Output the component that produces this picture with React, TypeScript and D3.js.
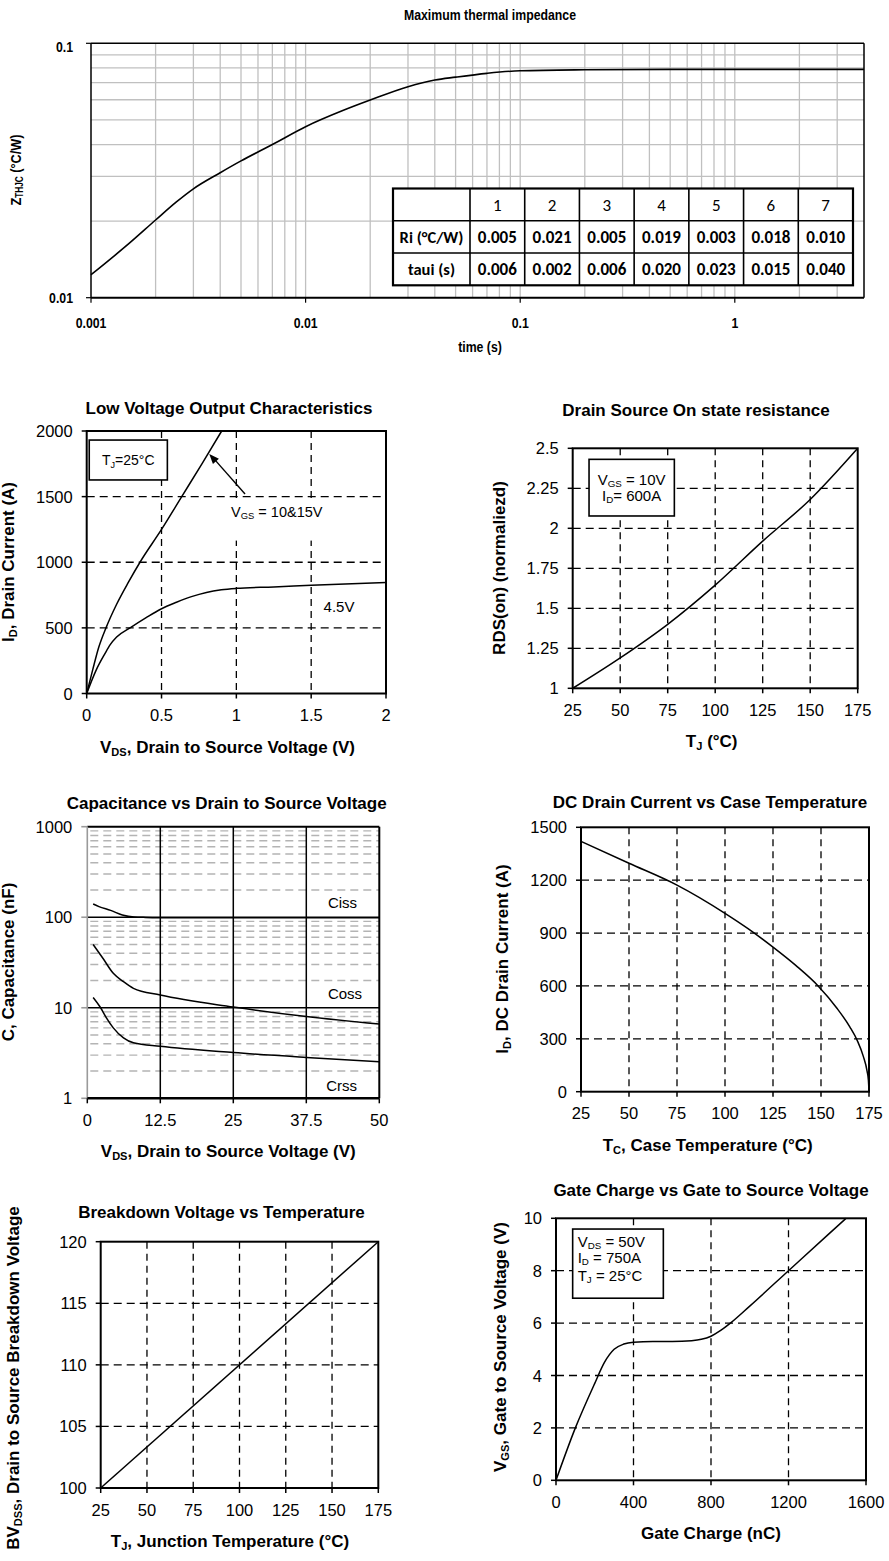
import React from 'react';
import * as d3 from 'd3';

const SANS = "'Liberation Sans', Arial, Helvetica, sans-serif";
const TABLEFONT = "Carlito, Calibri, Lato, 'Open Sans', sans-serif";

// ---------------- Data: thermal impedance ----------------
const thermalTime = [0.001, 0.0015, 0.002, 0.0025, 0.003, 0.004, 0.005, 0.007, 0.01, 0.015, 0.02, 0.03, 0.04, 0.05, 0.07, 0.1, 0.2, 0.5, 1, 2, 4];
const thermalZth = [0.0123, 0.0163, 0.0202, 0.0238, 0.0268, 0.031, 0.0345, 0.04, 0.047, 0.0545, 0.0598, 0.0675, 0.0717, 0.0736, 0.0762, 0.078, 0.0787, 0.079, 0.079, 0.079, 0.079];
const thermalXTicks = [0.001, 0.01, 0.1, 1];
const thermalXTickLabels = ['0.001', '0.01', '0.1', '1'];
const thermalYTicks = [0.01, 0.1];
const thermalYTickLabels = ['0.01', '0.1'];

const tableColumns = ['1', '2', '3', '4', '5', '6', '7'];
const tableRowLabels = ['Ri (°C/W)', 'taui (s)'];
const tableRi = ['0.005', '0.021', '0.005', '0.019', '0.003', '0.018', '0.010'];
const tableTau = ['0.006', '0.002', '0.006', '0.020', '0.023', '0.015', '0.040'];

// ---------------- Data: low voltage output ----------------
const lvV10 = [0, 0.04, 0.08, 0.129, 0.2, 0.28, 0.356, 0.5, 0.635, 0.77, 0.902];
const lvI10 = [0, 180, 350, 500, 680, 850, 1000, 1250, 1500, 1750, 2000];
const lvV45 = [0, 0.064, 0.12, 0.156, 0.2, 0.29, 0.4, 0.497, 0.6, 0.7, 0.8, 0.9, 1.0, 1.25, 1.5, 2.0];
const lvI45 = [0, 180, 300, 370, 430, 500, 580, 644, 695, 738, 770, 790, 801, 812, 825, 845];
const lvXTicks = [0, 0.5, 1, 1.5, 2];
const lvYTicks = [0, 500, 1000, 1500, 2000];

// ---------------- Data: RDS(on) ----------------
const rdsTemp = [25, 50, 75, 100, 125, 150, 175];
const rdsValue = [1.0, 1.19, 1.4, 1.645, 1.92, 2.18, 2.5];
const rdsXTicks = [25, 50, 75, 100, 125, 150, 175];
const rdsYTicks = [1, 1.25, 1.5, 1.75, 2, 2.25, 2.5];

// ---------------- Data: capacitance ----------------
const cissV = [1, 2, 4, 6, 8, 10, 12.5, 25, 37.5, 50];
const cissC = [140, 131, 119, 106, 100.5, 99.5, 99, 98.5, 98.5, 98.5];
const cossV = [1, 2.7, 4.45, 6.2, 7.9, 12.5, 25, 37.5, 50];
const cossC = [50, 35, 24, 19.4, 16.4, 13.8, 10.2, 8.0, 6.6];
const crssV = [1, 2.2, 3.3, 4.45, 6.2, 7.9, 12.5, 25, 37.5, 50];
const crssC = [13, 10.2, 7.7, 6.0, 4.65, 4.1, 3.75, 3.2, 2.83, 2.54];
const capXTicks = [0, 12.5, 25, 37.5, 50];
const capYTicks = [1, 10, 100, 1000];

// ---------------- Data: DC drain current ----------------
const dcTemp = [25, 50, 75, 100, 112, 125, 137, 148.5, 158.2, 165, 168.9, 172, 174, 174.7, 175];
const dcCurrent = [1420, 1296, 1172, 1012, 925, 820, 715, 600, 475, 368, 290, 202, 117, 64, 0];
const dcXTicks = [25, 50, 75, 100, 125, 150, 175];
const dcYTicks = [0, 300, 600, 900, 1200, 1500];

// ---------------- Data: breakdown voltage ----------------
const bvTemp = [25, 175];
const bvVoltage = [100, 120];
const bvXTicks = [25, 50, 75, 100, 125, 150, 175];
const bvYTicks = [100, 105, 110, 115, 120];

// ---------------- Data: gate charge ----------------
const gateQ = [0, 100, 200, 250, 300, 350, 400, 500, 600, 700, 750, 800, 850, 900, 1000, 1200, 1400, 1497];
const gateV = [0, 2, 3.7, 4.5, 5.0, 5.2, 5.27, 5.3, 5.3, 5.33, 5.38, 5.5, 5.72, 6.0, 6.65, 8.0, 9.35, 10];
const gateXTicks = [0, 400, 800, 1200, 1600];
const gateYTicks = [0, 2, 4, 6, 8, 10];

const TICK_FS = 16.5;
const LABEL_FS = 17;
const NARROW_SCALE = 0.82;

function Sub({ main, sub, rest, fs, dy = 3 }: { main: string; sub: string; rest: string; fs: number; dy?: number }) {
  return (
    <>
      <tspan>{main}</tspan>
      <tspan fontSize={fs * 0.65} dy={dy}>{sub}</tspan>
      <tspan dy={-dy}>{rest}</tspan>
    </>
  );
}

function NarrowText({
  x,
  y,
  fs,
  anchor = 'middle',
  rotate = 0,
  children,
}: {
  x: number;
  y: number;
  fs: number;
  anchor?: 'start' | 'middle' | 'end';
  rotate?: number;
  children: React.ReactNode;
}) {
  return (
    <text
      transform={`translate(${x},${y}) rotate(${rotate}) scale(${NARROW_SCALE},1)`}
      textAnchor={anchor}
      fontSize={fs}
      fontWeight="bold"
      fontFamily={SANS}
    >
      {children}
    </text>
  );
}

type Box = { l: number; r: number; t: number; b: number };

type ChartProps = {
  box: Box;
  xDomain: [number, number];
  yDomain: [number, number];
  xTicks: number[];
  yTicks: number[];
  title: string;
  titleCx: number;
  titleBase: number;
  xLabel: React.ReactNode;
  xLabelCx: number;
  yLabel: React.ReactNode;
  yLabelX: number;
  yLabelCy: number;
  series: { xs: number[]; ys: number[] }[];
  extra?: (x: d3.ScaleLinear<number, number>, y: d3.ScaleLinear<number, number>) => React.ReactNode;
};

function Chart(p: ChartProps) {
  const { box } = p;
  const x = d3.scaleLinear().domain(p.xDomain).range([box.l, box.r]);
  const y = d3.scaleLinear().domain(p.yDomain).range([box.b, box.t]);
  const line = d3
    .line<[number, number]>()
    .x((d) => x(d[0]))
    .y((d) => y(d[1]))
    .curve(d3.curveMonotoneX);
  const innerX = p.xTicks.filter((v) => v !== p.xDomain[0] && v !== p.xDomain[1]);
  const innerY = p.yTicks.filter((v) => v !== p.yDomain[0] && v !== p.yDomain[1]);
  return (
    <g>
      {innerY.map((v) => (
        <line key={'gy' + v} x1={box.l} x2={box.r} y1={y(v)} y2={y(v)} stroke="#000" strokeWidth={1.3} strokeDasharray="8,5" />
      ))}
      {innerX.map((v) => (
        <line key={'gx' + v} x1={x(v)} x2={x(v)} y1={box.t} y2={box.b} stroke="#000" strokeWidth={1.3} strokeDasharray="7,5" />
      ))}
      {p.extra && p.extra(x, y)}
      {p.series.map((s, i) => (
        <path
          key={'s' + i}
          d={line(s.xs.map((v, j) => [v, s.ys[j]] as [number, number])) || ''}
          fill="none"
          stroke="#000"
          strokeWidth={1.5}
        />
      ))}
      <rect x={box.l} y={box.t} width={box.r - box.l} height={box.b - box.t} fill="none" stroke="#000" strokeWidth={2} />
      {p.yTicks.map((v) => (
        <g key={'ty' + v}>
          <line x1={box.l - 5} x2={box.l} y1={y(v)} y2={y(v)} stroke="#000" strokeWidth={1.5} />
          <text x={box.l - 14} y={y(v) + 6} textAnchor="end" fontSize={TICK_FS} fontFamily={SANS}>
            {String(v)}
          </text>
        </g>
      ))}
      {p.xTicks.map((v) => (
        <g key={'tx' + v}>
          <line x1={x(v)} x2={x(v)} y1={box.b} y2={box.b + 5} stroke="#000" strokeWidth={1.5} />
          <text x={x(v)} y={box.b + 27.5} textAnchor="middle" fontSize={TICK_FS} fontFamily={SANS}>
            {String(v)}
          </text>
        </g>
      ))}
      <text x={p.titleCx} y={p.titleBase} textAnchor="middle" fontSize={LABEL_FS} fontWeight="bold" fontFamily={SANS}>
        {p.title}
      </text>
      <text x={p.xLabelCx} y={box.b + 59} textAnchor="middle" fontSize={LABEL_FS} fontWeight="bold" fontFamily={SANS}>
        {p.xLabel}
      </text>
      <text
        transform={`translate(${p.yLabelX},${p.yLabelCy}) rotate(-90)`}
        textAnchor="middle"
        fontSize={LABEL_FS}
        fontWeight="bold"
        fontFamily={SANS}
      >
        {p.yLabel}
      </text>
    </g>
  );
}

function ThermalChart() {
  const box: Box = { l: 91, r: 864, t: 43.3, b: 297.7 };
  const x = d3.scaleLog().domain([0.001, 4]).range([box.l, box.r]);
  const y = d3.scaleLog().domain([0.01, 0.1]).range([box.b, box.t]);
  const line = d3
    .line<[number, number]>()
    .x((d) => x(d[0]))
    .y((d) => y(d[1]))
    .curve(d3.curveMonotoneX);
  const vGrid: number[] = [];
  thermalXTicks.forEach((d) => {
    for (let k = 1; k <= 9; k++) {
      const v = d * k;
      if (v > 0.001 * 1.0001 && v < 4) vGrid.push(v);
    }
  });
  const hGrid: number[] = [];
  for (let k = 2; k <= 9; k++) hGrid.push(0.01 * k);

  // table layout
  const tl = 393, tr = 853, tt = 188.5, tb = 285.3;
  const firstW = 77;
  const colW = (tr - tl - firstW) / tableColumns.length;
  const rowH = (tb - tt) / 3;
  const colX = (i: number) => tl + firstW + i * colW;
  const rows = [tableRi, tableTau];
  const tfs = 17;

  return (
    <g>
      {hGrid.map((v) => (
        <line key={'h' + v} x1={box.l} x2={box.r} y1={y(v)} y2={y(v)} stroke="#c0c0c0" strokeWidth={1.3} />
      ))}
      {vGrid.map((v) => (
        <line key={'v' + v} x1={x(v)} x2={x(v)} y1={box.t} y2={box.b} stroke="#c0c0c0" strokeWidth={1.3} />
      ))}
      <path
        d={line(thermalTime.map((t, i) => [t, thermalZth[i]] as [number, number])) || ''}
        fill="none"
        stroke="#000"
        strokeWidth={1.6}
      />
      <line x1={box.l} x2={box.r} y1={box.t} y2={box.t} stroke="#000" strokeWidth={1.5} />
      <line x1={box.r} x2={box.r} y1={box.t} y2={box.b} stroke="#000" strokeWidth={1.5} />
      <line x1={box.l} x2={box.l} y1={box.t} y2={box.b} stroke="#000" strokeWidth={1.5} />
      <line x1={box.l} x2={box.r} y1={box.b} y2={box.b} stroke="#000" strokeWidth={2} />
      {thermalXTicks.map((v, i) => (
        <g key={'xt' + v}>
          <line x1={x(v)} x2={x(v)} y1={box.b} y2={box.b + 5} stroke="#000" strokeWidth={1.2} />
          <NarrowText x={x(v)} y={box.b + 30} fs={15}>
            {thermalXTickLabels[i]}
          </NarrowText>
        </g>
      ))}
      {thermalYTicks.map((v, i) => (
        <g key={'yt' + v}>
          <line x1={box.l - 5} x2={box.l} y1={y(v)} y2={y(v)} stroke="#000" strokeWidth={1.2} />
          <NarrowText x={box.l - 18} y={y(v) + (i === 1 ? 9 : 5)} fs={15} anchor="end">
            {thermalYTickLabels[i]}
          </NarrowText>
        </g>
      ))}
      <NarrowText x={490} y={20} fs={15}>
        Maximum thermal impedance
      </NarrowText>
      <NarrowText x={480} y={352} fs={15}>
        time (s)
      </NarrowText>
      <NarrowText x={21} y={170} fs={15.5} rotate={-90}>
        <Sub main="Z" sub="THJC" rest=" (°C/W)" fs={15.5} dy={2} />
      </NarrowText>

      {/* table */}
      <rect x={tl} y={tt} width={tr - tl} height={tb - tt} fill="#fff" stroke="none" />
      {[1, 2].map((r) => (
        <line key={'tr' + r} x1={tl} x2={tr} y1={tt + r * rowH} y2={tt + r * rowH} stroke="#000" strokeWidth={1.6} />
      ))}
      {tableColumns.map((c, i) => (
        <line key={'tc' + c} x1={colX(i)} x2={colX(i)} y1={tt} y2={tb} stroke="#000" strokeWidth={1.6} />
      ))}
      <rect x={tl} y={tt} width={tr - tl} height={tb - tt} fill="none" stroke="#000" strokeWidth={2.2} />
      {tableColumns.map((c, i) => (
        <text key={'hc' + c} x={colX(i) + colW / 2} y={tt + rowH / 2 + 6} textAnchor="middle" fontSize={tfs} fontFamily={TABLEFONT}>
          {c}
        </text>
      ))}
      {tableRowLabels.map((lab, r) => (
        <g key={'row' + r}>
          <text x={tl + firstW / 2} y={tt + (r + 1.5) * rowH + 6} textAnchor="middle" fontSize={tfs - 0.5} fontWeight="bold" fontFamily={TABLEFONT}>
            {lab}
          </text>
          {rows[r].map((v, i) => (
            <text key={'val' + r + i} x={colX(i) + colW / 2} y={tt + (r + 1.5) * rowH + 6} textAnchor="middle" fontSize={tfs} fontWeight="bold" fontFamily={TABLEFONT}>
              {v}
            </text>
          ))}
        </g>
      ))}
    </g>
  );
}

function CapChart() {
  const box: Box = { l: 87.3, r: 379.3, t: 826.7, b: 1098.3 };
  const x = d3.scaleLinear().domain([0, 50]).range([box.l, box.r]);
  const y = d3.scaleLog().domain([1, 1000]).range([box.b, box.t]);
  const line = d3
    .line<[number, number]>()
    .x((d) => x(d[0]))
    .y((d) => y(d[1]))
    .curve(d3.curveMonotoneX);
  const minor: number[] = [];
  [1, 10, 100].forEach((d) => {
    for (let k = 2; k <= 9; k++) minor.push(d * k);
  });
  const series = [
    { xs: cissV, ys: cissC },
    { xs: cossV, ys: cossC },
    { xs: crssV, ys: crssC },
  ];
  const fs = 15;
  return (
    <g>
      {minor.map((v) => (
        <line key={'m' + v} x1={box.l + 3} x2={box.r} y1={y(v)} y2={y(v)} stroke="#b4b4b4" strokeWidth={1.4} strokeDasharray="8,5" />
      ))}
      {[10, 100].map((v) => (
        <line key={'M' + v} x1={box.l} x2={box.r} y1={y(v)} y2={y(v)} stroke="#000" strokeWidth={1.4} />
      ))}
      {capXTicks
        .filter((v) => v !== 0 && v !== 50)
        .map((v) => (
          <line key={'vx' + v} x1={x(v)} x2={x(v)} y1={box.t} y2={box.b} stroke="#000" strokeWidth={1.5} />
        ))}
      {series.map((s, i) => (
        <path
          key={'cs' + i}
          d={line(s.xs.map((v, j) => [v, s.ys[j]] as [number, number])) || ''}
          fill="none"
          stroke="#000"
          strokeWidth={1.5}
        />
      ))}
      <line x1={box.l} x2={box.r} y1={box.t} y2={box.t} stroke="#000" strokeWidth={2} />
      <line x1={box.r} x2={box.r} y1={box.t} y2={box.b} stroke="#000" strokeWidth={2} />
      <line x1={box.l} x2={box.l} y1={box.t} y2={box.b} stroke="#9a9a9a" strokeWidth={1.6} />
      <line x1={box.l} x2={box.r} y1={box.b} y2={box.b} stroke="#000" strokeWidth={2.5} />
      {capYTicks.map((v) => (
        <g key={'cy' + v}>
          <line x1={box.l - 6} x2={box.l} y1={y(v)} y2={y(v)} stroke="#9a9a9a" strokeWidth={1.6} />
          <text x={box.l - 15} y={y(v) + 6} textAnchor="end" fontSize={TICK_FS} fontFamily={SANS}>
            {String(v)}
          </text>
        </g>
      ))}
      {capXTicks.map((v) => (
        <g key={'cx' + v}>
          <line x1={x(v)} x2={x(v)} y1={box.b} y2={box.b + 5} stroke="#000" strokeWidth={1.5} />
          <text x={x(v)} y={box.b + 27.5} textAnchor="middle" fontSize={TICK_FS} fontFamily={SANS}>
            {String(v)}
          </text>
        </g>
      ))}
      <text x={x(41.2)} y={y(125)} fontSize={fs} fontFamily={SANS}>Ciss</text>
      <text x={x(41.2)} y={y(12.4)} fontSize={fs} fontFamily={SANS}>Coss</text>
      <text x={x(40.9)} y={y(1.2)} fontSize={fs} fontFamily={SANS}>Crss</text>
      <text x={226.7} y={809} textAnchor="middle" fontSize={LABEL_FS} fontWeight="bold" fontFamily={SANS}>
        Capacitance vs Drain to Source Voltage
      </text>
      <text x={228.3} y={box.b + 59} textAnchor="middle" fontSize={LABEL_FS} fontWeight="bold" fontFamily={SANS}>
        <Sub main="V" sub="DS" rest=", Drain to Source Voltage (V)" fs={LABEL_FS} />
      </text>
      <text transform={`translate(14,962) rotate(-90)`} textAnchor="middle" fontSize={LABEL_FS} fontWeight="bold" fontFamily={SANS}>
        C, Capacitance (nF)
      </text>
    </g>
  );
}

function arrowHead(tx: number, ty: number, sx: number, sy: number) {
  const ang = Math.atan2(ty - sy, tx - sx);
  const L = 10, Wd = 4;
  const bx = tx - L * Math.cos(ang), by = ty - L * Math.sin(ang);
  const px = -Math.sin(ang) * Wd, py = Math.cos(ang) * Wd;
  return `M${tx},${ty}L${bx + px},${by + py}L${bx - px},${by - py}Z`;
}

export default function App() {
  const boxFs = 15;
  return (
    <svg
      width={889}
      height={1561}
      viewBox="0 0 889 1561"
      style={{ position: 'absolute', left: 0, top: 0, background: '#fff' }}
    >
      <rect x={0} y={0} width={889} height={1561} fill="#fff" />
      <ThermalChart />

      {/* Low voltage output characteristics */}
      <Chart
        box={{ l: 86.7, r: 386, t: 431, b: 693.5 }}
        xDomain={[0, 2]}
        yDomain={[0, 2000]}
        xTicks={lvXTicks}
        yTicks={lvYTicks}
        title="Low Voltage Output Characteristics"
        titleCx={229}
        titleBase={414}
        xLabel={<Sub main="V" sub="DS" rest=", Drain to Source Voltage (V)" fs={LABEL_FS} />}
        xLabelCx={227.5}
        yLabel={<Sub main="I" sub="D" rest=", Drain  Current (A)" fs={LABEL_FS} />}
        yLabelX={14}
        yLabelCy={562}
        series={[
          { xs: lvV10, ys: lvI10 },
          { xs: lvV45, ys: lvI45 },
        ]}
        extra={(x, y) => (
          <g>
            <rect x={x(0.017)} y={y(1931)} width={x(0.539) - x(0.017)} height={y(1627) - y(1931)} fill="#fff" stroke="#000" strokeWidth={1.6} />
            <text x={(x(0.017) + x(0.539)) / 2} y={y(1779) + 5} textAnchor="middle" fontSize={14} fontFamily={SANS}>
              <Sub main="T" sub="J" rest="=25°C" fs={14} dy={2.5} />
            </text>
            <rect x={x(0.96)} y={y(1465)} width={x(1.59) - x(0.96)} height={y(1165) - y(1465)} fill="#fff" />
            <text x={x(1.27)} y={y(1383) + 5.5} textAnchor="middle" fontSize={14.5} fontFamily={SANS}>
              <Sub main="V" sub="GS" rest=" = 10&15V" fs={14.5} dy={2} />
            </text>
            <text x={x(1.686)} y={y(661) + 5.5} textAnchor="middle" fontSize={boxFs} fontFamily={SANS}>
              4.5V
            </text>
            <line x1={x(1.058)} y1={y(1520)} x2={x(0.845)} y2={y(1795)} stroke="#000" strokeWidth={1.4} />
            <path d={arrowHead(x(0.819), y(1825), x(1.058), y(1520))} fill="#000" />
          </g>
        )}
      />

      {/* RDS(on) vs temperature */}
      <Chart
        box={{ l: 572.7, r: 857.7, t: 448.3, b: 688.3 }}
        xDomain={[25, 175]}
        yDomain={[1, 2.5]}
        xTicks={rdsXTicks}
        yTicks={rdsYTicks}
        title="Drain Source On state resistance"
        titleCx={696}
        titleBase={416}
        xLabel={<Sub main="T" sub="J" rest=" (°C)" fs={LABEL_FS} />}
        xLabelCx={711.7}
        yLabel={'RDS(on)  (normaliezd)'}
        yLabelX={505}
        yLabelCy={568}
        series={[{ xs: rdsTemp, ys: rdsValue }]}
        extra={(x, y) => (
          <g>
            <rect x={x(33.6)} y={y(2.431)} width={x(78.5) - x(33.6)} height={y(2.077) - y(2.431)} fill="#fff" stroke="#000" strokeWidth={1.6} />
            <text x={x(56)} y={y(2.3) + 5} textAnchor="middle" fontSize={boxFs} fontFamily={SANS}>
              <Sub main="V" sub="GS" rest=" = 10V" fs={boxFs} dy={2} />
            </text>
            <text x={x(56)} y={y(2.2) + 5} textAnchor="middle" fontSize={boxFs} fontFamily={SANS}>
              <Sub main="I" sub="D" rest="= 600A" fs={boxFs} dy={2} />
            </text>
          </g>
        )}
      />

      <CapChart />

      {/* DC drain current vs case temperature */}
      <Chart
        box={{ l: 581, r: 869, t: 827.3, b: 1091.7 }}
        xDomain={[25, 175]}
        yDomain={[0, 1500]}
        xTicks={dcXTicks}
        yTicks={dcYTicks}
        title="DC Drain Current vs Case Temperature"
        titleCx={710}
        titleBase={808}
        xLabel={<Sub main="T" sub="C" rest=", Case Temperature (°C)" fs={LABEL_FS} />}
        xLabelCx={707.7}
        yLabel={<Sub main="I" sub="D" rest=", DC Drain Current (A)" fs={LABEL_FS} />}
        yLabelX={508}
        yLabelCy={959}
        series={[{ xs: dcTemp, ys: dcCurrent }]}
      />

      {/* Breakdown voltage vs temperature */}
      <Chart
        box={{ l: 100.7, r: 378.3, t: 1241.7, b: 1488 }}
        xDomain={[25, 175]}
        yDomain={[100, 120]}
        xTicks={bvXTicks}
        yTicks={bvYTicks}
        title="Breakdown Voltage vs Temperature"
        titleCx={221.5}
        titleBase={1218}
        xLabel={<Sub main="T" sub="J" rest=", Junction Temperature (°C)" fs={LABEL_FS} />}
        xLabelCx={230}
        yLabel={<Sub main="BV" sub="DSS" rest=", Drain to Source Breakdown Voltage" fs={LABEL_FS} />}
        yLabelX={19}
        yLabelCy={1378}
        series={[{ xs: bvTemp, ys: bvVoltage }]}
      />

      {/* Gate charge */}
      <Chart
        box={{ l: 556, r: 866, t: 1218.3, b: 1480.3 }}
        xDomain={[0, 1600]}
        yDomain={[0, 10]}
        xTicks={gateXTicks}
        yTicks={gateYTicks}
        title="Gate Charge vs Gate to Source Voltage"
        titleCx={711}
        titleBase={1196}
        xLabel={'Gate Charge (nC)'}
        xLabelCx={711}
        yLabel={<Sub main="V" sub="GS" rest=", Gate to Source Voltage (V)" fs={LABEL_FS} />}
        yLabelX={506}
        yLabelCy={1347}
        series={[{ xs: gateQ, ys: gateV }]}
        extra={(x, y) => (
          <g>
            <rect x={x(86)} y={y(9.59)} width={x(554) - x(86)} height={y(6.95) - y(9.59)} fill="#fff" stroke="#000" strokeWidth={1.6} />
            <text x={x(112)} y={y(8.92)} fontSize={boxFs} fontFamily={SANS}>
              <Sub main="V" sub="DS" rest=" = 50V" fs={boxFs} dy={2} />
            </text>
            <text x={x(112)} y={y(8.28)} fontSize={boxFs} fontFamily={SANS}>
              <Sub main="I" sub="D" rest=" = 750A" fs={boxFs} dy={2} />
            </text>
            <text x={x(112)} y={y(7.62)} fontSize={boxFs} fontFamily={SANS}>
              <Sub main="T" sub="J" rest=" = 25°C" fs={boxFs} dy={2} />
            </text>
          </g>
        )}
      />
    </svg>
  );
}
